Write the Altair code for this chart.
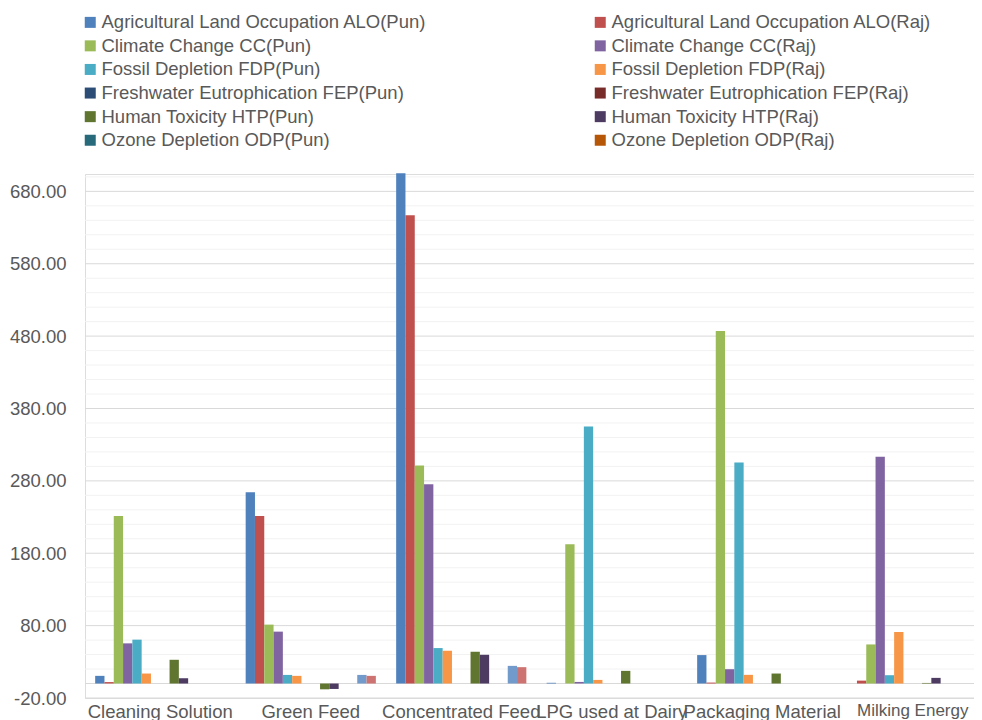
import altair as alt
import pandas as pd

categories = ["Cleaning Solution", "Green Feed", "Concentrated Feed",
              "LPG used at Dairy", "Packaging Material", "Milking Energy"]

series = [
    "Agricultural Land Occupation ALO(Pun)", "Agricultural Land Occupation ALO(Raj)",
    "Climate Change CC(Pun)", "Climate Change CC(Raj)",
    "Fossil Depletion FDP(Pun)", "Fossil Depletion FDP(Raj)",
    "Freshwater Eutrophication FEP(Pun)", "Freshwater Eutrophication FEP(Raj)",
    "Human Toxicity HTP(Pun)", "Human Toxicity HTP(Raj)",
    "Ozone Depletion ODP(Pun)", "Ozone Depletion ODP(Raj)",
    "Series 13", "Series 14",
]

colors = ["#4F81BD", "#C0504D", "#9BBB59", "#8064A2", "#4BACC6", "#F79646",
          "#2C4D75", "#772C2A", "#5F7530", "#4D3B62", "#276A7C", "#B65708",
          "#729ACA", "#CD7371"]

alo_pun = [10.6, 264.3, 705.0, 1.0, 39.3, 0.0]
alo_raj = [2.0, 231.4, 647.0, 0.0, 1.3, 4.0]
cc_pun = [231.4, 81.4, 301.3, 192.5, 487.0, 54.0]
cc_raj = [55.5, 71.7, 275.4, 2.2, 19.8, 313.3]
fdp_pun = [60.6, 11.9, 49.0, 355.0, 305.4, 11.5]
fdp_raj = [13.8, 10.6, 45.3, 5.0, 12.0, 71.2]
fep_pun = [0.0, 0.0, 0.0, 0.0, 0.0, 0.0]
fep_raj = [0.0, 0.0, 0.0, 0.0, 0.0, 0.0]
htp_pun = [32.8, -8.0, 43.9, 17.5, 13.8, 0.8]
htp_raj = [7.3, -7.5, 39.7, 0.0, 0.0, 7.8]
odp_pun = [0.0, 0.0, 0.0, 0.0, 0.0, 0.0]
odp_raj = [0.0, 0.0, 0.0, 0.0, 0.0, 0.0]
s13 = [0.0, 11.9, 24.4, 0.0, 0.0, 0.0]
s14 = [0.0, 10.6, 22.6, 0.0, 0.0, 0.0]

all_values = [alo_pun, alo_raj, cc_pun, cc_raj, fdp_pun, fdp_raj, fep_pun,
              fep_raj, htp_pun, htp_raj, odp_pun, odp_raj, s13, s14]

major_ticks = [-20, 80, 180, 280, 380, 480, 580, 680]
minor_ticks = [20, 40, 60, 100, 120, 140, 160, 200, 220, 240, 260, 300, 320, 340,
               360, 400, 420, 440, 460, 500, 520, 540, 560, 600, 620, 640, 660, 700]
zero_line = [0]

rows = []
for s, vals in zip(series, all_values):
    for c, v in zip(categories, vals):
        rows.append({"category": c, "series": s, "value": v})
df = pd.DataFrame(rows)

FONT = "Liberation Sans"
GREY = "#595959"
FS = 18.5

yscale = alt.Scale(domain=[-20, 704], nice=False, zero=False)
yaxis = alt.Axis(values=major_ticks, grid=False, domain=False, ticks=False, tickSize=0,
                 labelPadding=19, labelFontSize=FS, labelColor=GREY, labelFont=FONT,
                 title=None,
                 labelExpr="replace(format(datum.value, '.2f'), '\u2212', '-')")

minor = alt.Chart(pd.DataFrame({"value": minor_ticks})).mark_rule(
    color="#f2f2f2", strokeWidth=1
).encode(y=alt.Y("value:Q", scale=yscale, axis=yaxis))

major = alt.Chart(pd.DataFrame({"value": major_ticks + zero_line})).mark_rule(
    color="#d9d9d9", strokeWidth=1
).encode(y=alt.Y("value:Q", scale=yscale, axis=yaxis))

bars = alt.Chart(df).mark_bar().encode(
    x=alt.X("category:N", sort=categories,
            scale=alt.Scale(range=[0, 903], paddingInner=0.135, paddingOuter=0.0676),
            axis=alt.Axis(title=None, labelAngle=0, domain=False, ticks=False, tickSize=0,
                          labelPadding=4,
                          labelFontSize={"condition": {"test": "datum.value == 'Milking Energy'",
                                                       "value": 17},
                                         "value": FS},
                          labelColor=GREY, labelFont=FONT,
                          labelBaseline="top")),
    xOffset=alt.XOffset("series:N", sort=series,
                        scale=alt.Scale(paddingInner=0, paddingOuter=0)),
    y=alt.Y("value:Q", scale=yscale, axis=yaxis),
    color=alt.Color("series:N", sort=series,
                    scale=alt.Scale(domain=series, range=colors),
                    legend=alt.Legend(orient="none", legendX=-4, legendY=-161,
                                      direction="horizontal", padding=0,
                                      columns=2, columnPadding=164, rowPadding=4.6,
                                      symbolType="square", symbolSize=121,
                                      symbolStrokeWidth=0, labelFontSize=FS,
                                      labelColor=GREY, labelFont=FONT, title=None,
                                      values=series[:12], labelOffset=2,
                                      labelLimit=600)),
)

chart = alt.layer(minor, major, bars).properties(
    width=889, height=524,
    padding={"left": 77, "top": 166, "right": 0, "bottom": 22},
    autosize=alt.AutoSizeParams(type="none"),
).configure_view(stroke=None, clip=True).configure(font=FONT)

chart.save("out.html", embed_options={"renderer": "svg", "actions": False})
